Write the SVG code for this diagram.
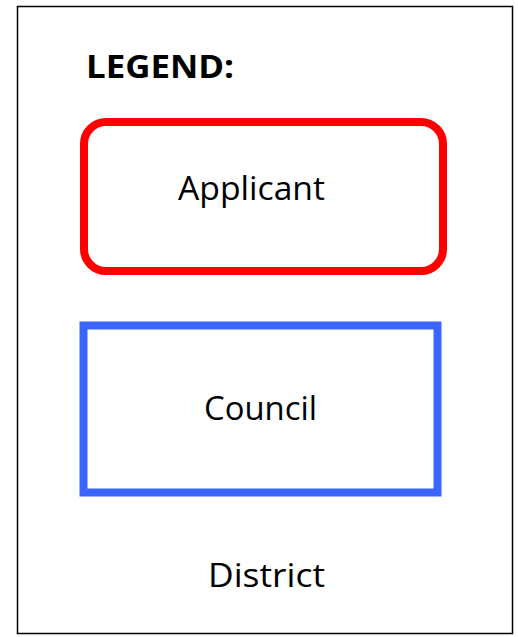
<svg xmlns="http://www.w3.org/2000/svg" width="518" height="637" viewBox="0 0 518 637">
<style>
text{font-family:"Open Sans","Noto Sans","DejaVu Sans",sans-serif;fill:#000;font-size:33px}
.title{font-weight:bold}
.c{text-anchor:middle}
</style>
<rect width="518" height="637" fill="#fff"/>
<g id="district">
<rect x="17.5" y="6.5" width="495" height="627" fill="none" stroke="#000" stroke-width="1.5"/>
<text class="c" x="266.5" y="587" textLength="117" lengthAdjust="spacingAndGlyphs">District</text>
</g>
<g id="legend-title"><text class="title" x="86" y="78" textLength="148" lengthAdjust="spacingAndGlyphs">LEGEND:</text></g>
<g id="applicant">
<rect x="84" y="122" width="359" height="149" rx="22" ry="22" fill="none" stroke="#ff0000" stroke-width="8"/>
<text class="c" x="251.5" y="200" textLength="147" lengthAdjust="spacingAndGlyphs">Applicant</text>
</g>
<g id="council">
<rect x="83.5" y="325.5" width="354" height="167" fill="none" stroke="#3a66ff" stroke-width="8"/>
<text class="c" x="260.5" y="420" textLength="113" lengthAdjust="spacingAndGlyphs">Council</text>
</g>
<g id="connectors"/>
</svg>
